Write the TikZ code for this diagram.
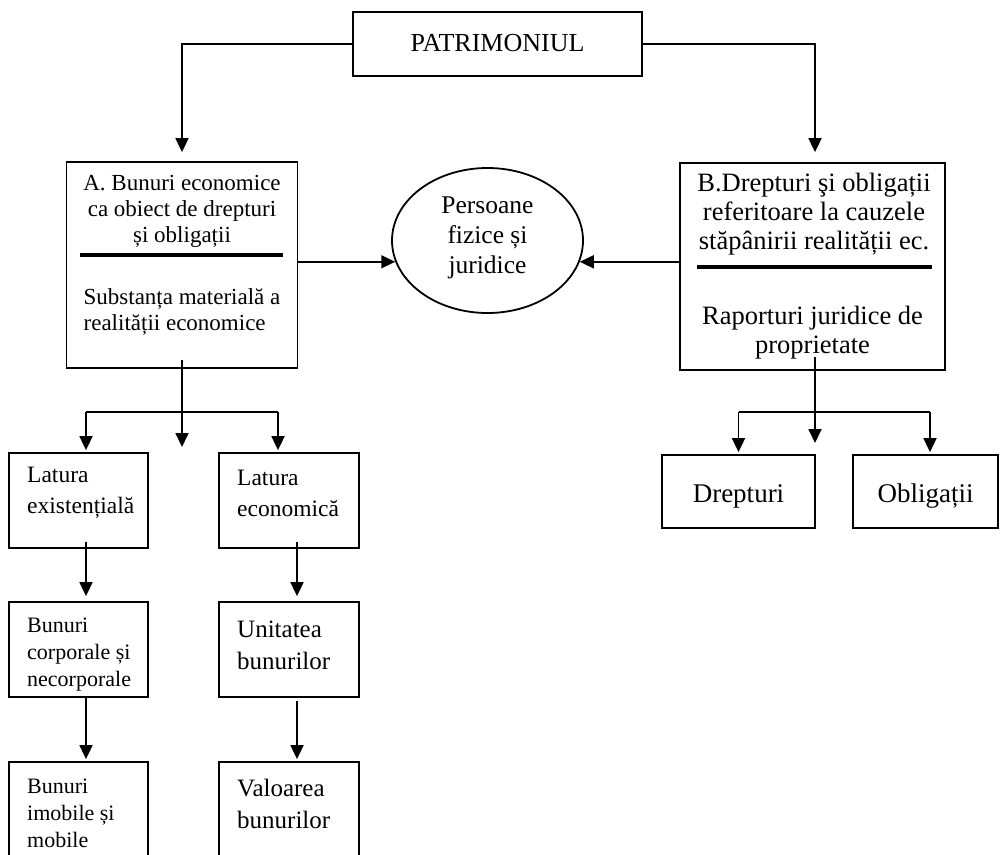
\documentclass[tikz,border=0pt]{standalone}
\usepackage{fontspec}
\setmainfont{Liberation Serif}
\usetikzlibrary{arrows.meta,shapes.geometric,calc}
\begin{document}
\begin{tikzpicture}[x=1pt,y=-1pt,
  box/.style={draw,line width=1.8pt,inner sep=0pt},
  txt/.style={inner sep=0pt},
  conn/.style={line width=1.8pt},
  arr/.style={line width=1.8pt,-{Triangle[length=14pt,width=13pt]}},
  sep/.style={line width=3.6pt},
  fA/.style={font=\fontsize{23}{26}\selectfont},
  fB/.style={font=\fontsize{26.5}{29}\selectfont},
  fS/.style={font=\fontsize{22}{27}\selectfont},
  fL/.style={font=\fontsize{25}{32}\selectfont}]
\useasboundingbox (0,0) rectangle (1001,854);
\fill[white] (0,0) rectangle (1001,854);
\clip (0,0) rectangle (1001,854);

% boxes
\node[box,minimum width=289pt,minimum height=64pt] (patr) at (497.5,44) {};
\node[box,minimum width=231pt,minimum height=206pt] (boxA) at (182,265) {};
\node[draw,line width=1.8pt,ellipse,minimum width=191pt,minimum height=145pt,inner sep=0pt] (ell) at (487.5,240.5) {};
\node[box,minimum width=265pt,minimum height=207pt] (boxB) at (812.5,266.5) {};
\node[box,minimum width=153pt,minimum height=73pt] (drep) at (738.5,491.5) {};
\node[box,minimum width=145pt,minimum height=73pt] (oblig) at (925.5,491.5) {};
\node[box,minimum width=139pt,minimum height=95pt] (latEx) at (78.5,500.5) {};
\node[box,minimum width=140pt,minimum height=95pt] (latEc) at (289,500.5) {};
\node[box,minimum width=139pt,minimum height=95pt] (bunCorp) at (78.5,649.5) {};
\node[box,minimum width=140pt,minimum height=95pt] (unit) at (289,649.5) {};
\node[box,minimum width=139pt,minimum height=110pt] (bunImob) at (78.5,817) {};
\node[box,minimum width=140pt,minimum height=110pt] (val) at (289,817) {};

% texts
\node[txt,font=\fontsize{26}{30}\selectfont] (patrT) at (497.5,43) {PATRIMONIUL};
\node[txt,fA,align=center] (aTop) at (182,211) {A. Bunuri economice\\ca obiect de drepturi\\și obligații};
\node[txt,fA,align=left] (aBot) at (182,312) {Substanța materială a\\realității economice};
\node[txt,font=\fontsize{25.5}{30}\selectfont,align=center] (ellT) at (487.5,238) {Persoane\\fizice și\\juridice};
\node[txt,fB,align=center] (bTop) at (814,214) {B.Drepturi şi obligații\\referitoare la cauzele\\stăpânirii realității ec.};
\node[txt,fB,align=center] (bBot) at (812.5,333) {Raporturi juridice de\\proprietate};
\node[txt,font=\fontsize{27}{30}\selectfont] (drepT) at (738.5,496) {Drepturi};
\node[txt,font=\fontsize{27}{30}\selectfont] (obligT) at (925.5,496) {Obligații};
\node[txt,font=\fontsize{23.5}{31}\selectfont,align=left,anchor=west] (latExT) at (27,493) {Latura\\existențială};
\node[txt,font=\fontsize{23.5}{31}\selectfont,align=left,anchor=west] (latEcT) at (237,493) {Latura\\economică};
\node[txt,fS,align=left,anchor=west] (bunCorpT) at (27,655) {Bunuri\\corporale și\\necorporale};
\node[txt,fL,align=left,anchor=west] (unitT) at (237,645) {Unitatea\\bunurilor};
\node[txt,fS,align=left,anchor=west] (bunImobT) at (27,813) {Bunuri\\imobile și\\mobile};
\node[txt,fL,align=left,anchor=west] (valT) at (237,804) {Valoarea\\bunurilor};

% separators
\draw[sep] (80,255) -- (283,255);
\draw[sep] (697,267) -- (932,267);

% top connectors
\draw[arr] (patr.west) -| ([yshift=9pt]boxA.north);
\draw[arr] (patr.east) -| ([xshift=2.5pt,yshift=10pt]boxB.north);

% to ellipse
\draw[arr] (boxA.east |- ell.193) -- (ell.193);
\draw[arr] (boxB.west |- ell.347) -- (ell.347);

% A branch
\coordinate (aSrc) at (182,360);
\coordinate (aTip) at (182,447);
\coordinate (barL) at (86,412);
\coordinate (barR) at (278,412);
\draw[arr] (aSrc) -- (aTip);
\draw[conn] (barL) -- (barR);
\draw[arr] (barL) -- ([yshift=2pt]barL |- latEx.north);
\draw[arr] (barR) -- ([yshift=2pt]barR |- latEc.north);

% B branch
\coordinate (bSrc) at (815,357);
\coordinate (bTip) at (815,443);
\coordinate (bbarL) at (738.5,412);
\coordinate (bbarR) at (930,412);
\draw[arr] (bSrc) -- (bTip);
\draw[conn] (bbarL) -- (bbarR);
\draw[arr] (bbarL) -- ([yshift=2pt]bbarL |- drep.north);
\draw[arr] (bbarR) -- ([yshift=2pt]bbarR |- oblig.north);

% columns
\coordinate (cL) at (86,0);
\coordinate (cR) at (297,0);
\draw[arr] ([yshift=7pt]latEx.south -| cL) -- ([yshift=5pt]bunCorp.north -| cL);
\draw[arr] ([yshift=7pt]latEc.south -| cR) -- ([yshift=5pt]unit.north -| cR);
\draw[arr] (bunCorp.south -| cL) -- ([yshift=2pt]bunImob.north -| cL);
\draw[arr] ([yshift=-3pt]unit.south -| cR) -- ([yshift=2pt]val.north -| cR);
\end{tikzpicture}
\end{document}
